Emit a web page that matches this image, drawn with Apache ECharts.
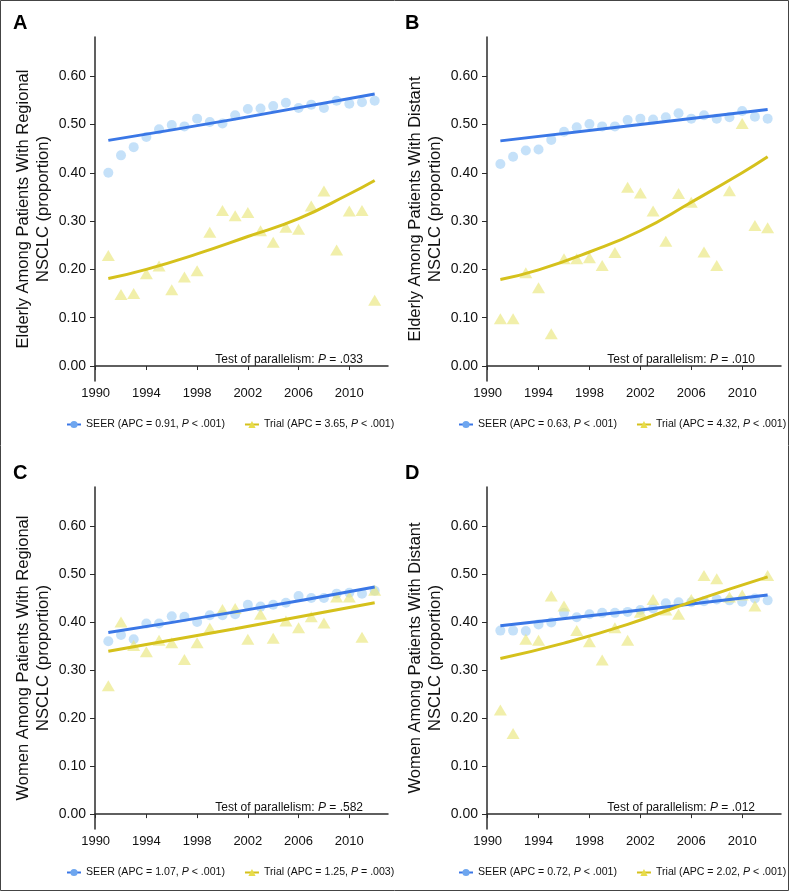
<!DOCTYPE html>
<html>
<head>
<meta charset="utf-8">
<script src="https://cdn.jsdelivr.net/npm/echarts@6/dist/echarts.min.js"></script>
<style>
html, body { margin: 0; padding: 0; background: #fff; }
#chart { width: 792px; height: 892px; }
</style>
</head>
<body>
<div id="chart"></div>
<script>
// years of the observed points
var years = [1991, 1992, 1993, 1994, 1995, 1996, 1997, 1998, 1999, 2000, 2001,
             2002, 2003, 2004, 2005, 2006, 2007, 2008, 2009, 2010, 2011, 2012]

// A: elderly, regional
var seerA  = [0.400, 0.436, 0.453, 0.474, 0.490, 0.499, 0.496, 0.512, 0.505, 0.502, 0.519,
              0.532, 0.533, 0.538, 0.545, 0.534, 0.541, 0.534, 0.549, 0.543, 0.546, 0.549]
var trialA = [0.229, 0.148, 0.150, 0.191, 0.207, 0.158, 0.184, 0.197, 0.277, 0.322, 0.311,
              0.318, 0.280, 0.256, 0.287, 0.283, 0.331, 0.362, 0.240, 0.321, 0.322, 0.136]
// B: elderly, distant
var seerB  = [0.418, 0.433, 0.446, 0.448, 0.468, 0.485, 0.494, 0.501, 0.496, 0.496, 0.509,
              0.512, 0.510, 0.515, 0.523, 0.512, 0.519, 0.512, 0.515, 0.528, 0.516, 0.512]
var trialB = [0.098, 0.098, 0.193, 0.162, 0.067, 0.222, 0.222, 0.224, 0.208, 0.235, 0.370,
              0.358, 0.321, 0.258, 0.357, 0.339, 0.236, 0.208, 0.363, 0.502, 0.291, 0.286]
// C: women, regional
var seerC  = [0.360, 0.373, 0.364, 0.397, 0.397, 0.412, 0.411, 0.400, 0.414, 0.414, 0.416,
              0.436, 0.432, 0.436, 0.440, 0.454, 0.450, 0.450, 0.459, 0.461, 0.459, 0.465]
var trialC = [0.267, 0.400, 0.351, 0.338, 0.362, 0.357, 0.322, 0.357, 0.387, 0.426, 0.428,
              0.364, 0.416, 0.366, 0.402, 0.388, 0.411, 0.398, 0.452, 0.452, 0.368, 0.466]
// D: women, distant
var seerD  = [0.382, 0.382, 0.381, 0.395, 0.399, 0.419, 0.410, 0.416, 0.419, 0.419, 0.421,
              0.425, 0.428, 0.439, 0.441, 0.441, 0.443, 0.447, 0.445, 0.442, 0.449, 0.445]
var trialD = [0.217, 0.168, 0.364, 0.362, 0.454, 0.433, 0.382, 0.359, 0.321, 0.388, 0.362,
              0.420, 0.447, 0.425, 0.416, 0.447, 0.497, 0.490, 0.452, 0.456, 0.433, 0.497]

// fitted trend curves
var seerFitA  = [[1991, 0.467], [2001, 0.511], [2012, 0.563]]
var trialFitA = [[1991, 0.181], [1994, 0.200], [1998, 0.232], [2002, 0.268], [2006, 0.305], [2010, 0.356], [2012, 0.384]]
var seerFitB  = [[1991, 0.466], [2001, 0.497], [2012, 0.531]]
var trialFitB = [[1991, 0.179], [1994, 0.199], [1998, 0.236], [2002, 0.280], [2006, 0.339], [2010, 0.400], [2012, 0.433]]
var seerFitC  = [[1991, 0.378], [2001, 0.421], [2012, 0.473]]
var trialFitC = [[1991, 0.339], [2001, 0.386], [2012, 0.440]]
var seerFitD  = [[1991, 0.392], [2001, 0.422], [2012, 0.456]]
var trialFitD = [[1991, 0.324], [1996, 0.356], [2001, 0.395], [2006, 0.442], [2012, 0.494]]

var xTicks = [1990, 1994, 1998, 2002, 2006, 2010]
var yTicks = [0, 0.1, 0.2, 0.3, 0.4, 0.5, 0.6]

var panelLetters = ['A', 'B', 'C', 'D']
var yTitles = [
  'Elderly Among Patients With Regional\nNSCLC (proportion)',
  'Elderly Among Patients With Distant\nNSCLC (proportion)',
  'Women Among Patients With Regional\nNSCLC (proportion)',
  'Women Among Patients With Distant\nNSCLC (proportion)'
]
var parallelP = ['.033', '.010', '.582', '.012']
var seerLegend = ['SEER (APC = 0.91, ', 'SEER (APC = 0.63, ', 'SEER (APC = 1.07, ', 'SEER (APC = 0.72, ']
var trialLegend = ['Trial (APC = 3.65, ', 'Trial (APC = 4.32, ', 'Trial (APC = 1.25, ', 'Trial (APC = 2.02, ']
var seerLegendP = [' < .001)', ' < .001)', ' < .001)', ' < .001)']
var trialLegendP = [' < .001)', ' < .001)', ' = .003)', ' < .001)']

var seerPts = [seerA, seerB, seerC, seerD]
var trialPts = [trialA, trialB, trialC, trialD]
var seerFits = [seerFitA, seerFitB, seerFitC, seerFitD]
var trialFits = [trialFitA, trialFitB, trialFitC, trialFitD]

var FONT = '"Liberation Sans", Arial, sans-serif'
var SEER_PT = 'rgba(165,208,245,0.8)'
var SEER_LINE = '#3a77e6'
var TRIAL_PT = 'rgba(235,231,130,0.85)'
var TRIAL_LINE = '#d5c11c'
var AXIS = '#2b2b2b'

// panel placement
var grids = [
  { left: 95, top: 37, width: 293, height: 344 },
  { left: 487, top: 37, width: 294, height: 344 },
  { left: 95, top: 487, width: 293, height: 342 },
  { left: 487, top: 487, width: 294, height: 342 }
]

function pairs(vals) {
  return years.map(function (y, i) { return [y, vals[i]] })
}

var xAxes = [], yAxes = [], series = [], legends = [], graphics = []
var legendMap = {}

for (var p = 0; p < 4; p++) {
  var g = grids[p]
  xAxes.push({
    type: 'value', gridIndex: p, min: 1989.95, max: 2013.05,
    axisLine: { show: true, lineStyle: { color: AXIS, width: 1.5 } },
    axisTick: { show: true, length: 4, customValues: xTicks, lineStyle: { color: AXIS } },
    axisLabel: {
      customValues: xTicks, color: '#111', fontSize: 13, fontFamily: FONT, margin: 6,
      formatter: function (v) { return String(v) }
    },
    splitLine: { show: false }
  })
  yAxes.push({
    type: 'value', gridIndex: p, min: -0.031, max: 0.681,
    axisLine: { show: true, lineStyle: { color: AXIS, width: 1.5 } },
    axisTick: { show: true, length: 5, customValues: yTicks, lineStyle: { color: AXIS } },
    axisLabel: {
      customValues: yTicks, color: '#111', fontSize: 14, fontFamily: FONT, margin: 9,
      formatter: function (v) { return v.toFixed(2) }
    },
    splitLine: { show: false },
    name: yTitles[p], nameLocation: 'middle', nameRotate: 90, nameGap: 42,
    nameTextStyle: { color: '#111', fontSize: 16.5, fontFamily: FONT, lineHeight: 20 }
  })

  var sName = 'SEER-' + panelLetters[p]
  var tName = 'Trial-' + panelLetters[p]
  legendMap[sName] = [seerLegend[p], seerLegendP[p]]
  legendMap[tName] = [trialLegend[p], trialLegendP[p]]

  series.push({
    type: 'scatter', xAxisIndex: p, yAxisIndex: p, data: pairs(seerPts[p]),
    symbol: 'circle', symbolSize: 10, itemStyle: { color: SEER_PT }, z: 2
  })
  series.push({
    type: 'scatter', xAxisIndex: p, yAxisIndex: p, data: pairs(trialPts[p]),
    symbol: 'triangle', symbolSize: [13, 11], itemStyle: { color: TRIAL_PT }, z: 2
  })
  series.push({
    name: sName, type: 'line', xAxisIndex: p, yAxisIndex: p, data: seerFits[p],
    smooth: true, symbol: 'circle', showSymbol: false,
    lineStyle: { color: SEER_LINE, width: 3 }, itemStyle: { color: '#6ea6ef' }, z: 3
  })
  series.push({
    name: tName, type: 'line', xAxisIndex: p, yAxisIndex: p, data: trialFits[p],
    smooth: true, symbol: 'triangle', showSymbol: false,
    lineStyle: { color: TRIAL_LINE, width: 3 }, itemStyle: { color: '#e8dc4a' }, z: 3
  })

  legends.push({
    data: [sName, tName], left: g.left - 34, top: g.top + g.height + 33,
    width: 420, itemWidth: 14, itemHeight: 9, itemGap: 19, selectedMode: false,
    formatter: function (name) {
      return '{n|' + legendMap[name][0] + '}{i|P}{n|' + legendMap[name][1] + '}'
    },
    textStyle: {
      rich: {
        n: { fontSize: 10.6, fontFamily: FONT, color: '#111' },
        i: { fontSize: 10.6, fontFamily: FONT, color: '#111', fontStyle: 'italic' }
      }
    }
  })

  graphics.push({
    type: 'text', left: g.left - 82, top: g.top - 24,
    style: { text: panelLetters[p], font: 'bold 20px ' + FONT, fill: '#000' }
  })
  graphics.push({
    type: 'text', x: g.left + 268, y: g.top + g.height - 21,
    style: {
      text: '{n|Test of parallelism: }{i|P}{n| = ' + parallelP[p] + '}',
      align: 'right', verticalAlign: 'middle',
      rich: {
        n: { fontSize: 12, fontFamily: FONT, fill: '#111' },
        i: { fontSize: 12, fontFamily: FONT, fill: '#111', fontStyle: 'italic' }
      }
    }
  })
}

graphics.push({
  type: 'rect', shape: { x: 0.5, y: 0.5, width: 788, height: 890 },
  style: { fill: 'none', stroke: '#444', lineWidth: 1 }, silent: true
})

var chart = echarts.init(document.getElementById('chart'))
chart.setOption({
  backgroundColor: '#fff',
  animation: false,
  grid: grids,
  xAxis: xAxes,
  yAxis: yAxes,
  legend: legends,
  series: series,
  graphic: graphics
})
</script>
</body>
</html>
